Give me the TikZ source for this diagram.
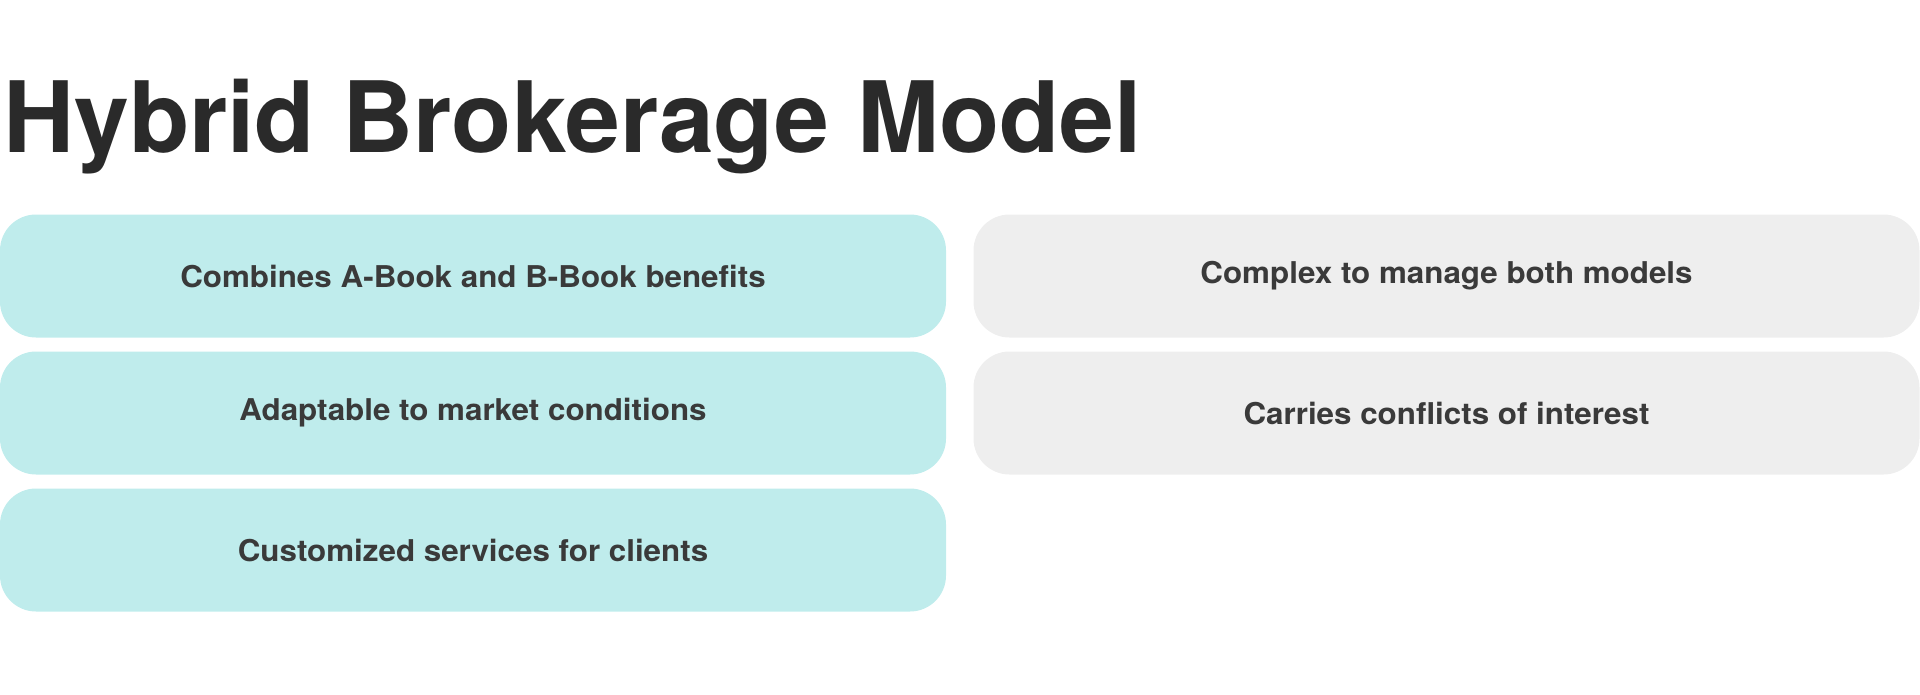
\documentclass[tikz,border=0pt]{standalone}
\usepackage{fontspec}
\setmainfont{TeX Gyre Heros}
\newfontfamily\cardfont{TeX Gyre Heros}[FakeStretch=1.045]
\definecolor{teal}{HTML}{BFECEC}
\definecolor{greybox}{HTML}{EEEEEE}
\definecolor{titlecol}{HTML}{2A2A2A}
\definecolor{textcol}{HTML}{3A3A3A}
\begin{document}
\begin{tikzpicture}[x=1pt,y=-1pt,
  card/.style={rounded corners=36pt, inner sep=0pt, minimum width=946pt, minimum height=123pt,
    font=\cardfont\fontsize{30}{34}\selectfont\bfseries, text=textcol},
  pro/.style={card, fill=teal},
  con/.style={card, fill=greybox}]
\useasboundingbox (0,0) rectangle (1920,694);
\node[anchor=base west, inner sep=0pt, text=titlecol, font=\fontsize{98.5}{110}\selectfont\bfseries] (title) at (3,152) {Hybrid Brokerage Model};
\node[pro] (p1) at (473,276) {Combines A-Book and B-Book benefits};
\node[pro] (p2) at (473,413) {Adaptable to market conditions};
\node[pro] (p3) at (473,550) {Customized services for clients};
\node[con] (c1) at (1446.5,276) {Complex to manage both models};
\node[con] (c2) at (1446.5,413) {Carries conflicts of interest};
\end{tikzpicture}
\end{document}
